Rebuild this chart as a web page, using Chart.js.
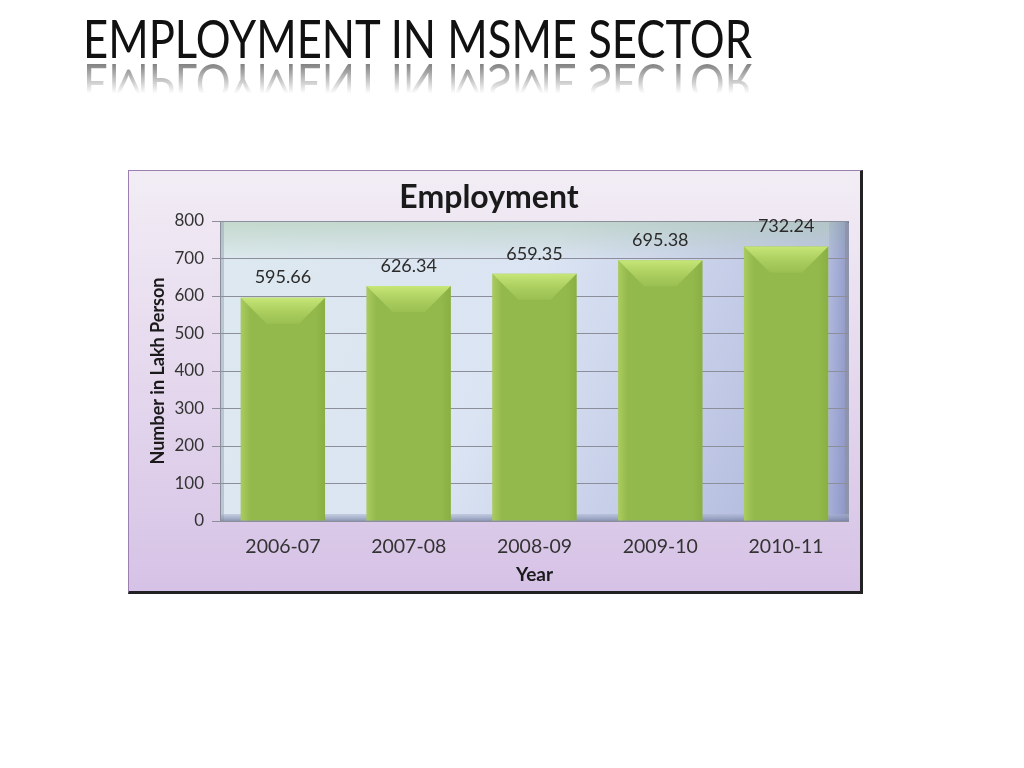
<!DOCTYPE html>
<html>
<head>
<meta charset="utf-8">
<script src="https://cdn.jsdelivr.net/npm/chart.js@4.4.1/dist/chart.umd.min.js"></script>
<style>
  html, body { margin: 0; padding: 0; background: #ffffff; width: 1024px; height: 768px; overflow: hidden; }
  #slideTitle {
    position: absolute; left: 83px; top: 14px;
    font-family: Lato, "Open Sans", sans-serif; font-size: 52px; font-weight: 400;
    line-height: 48px; color: #111; white-space: nowrap;
    transform-origin: 0 0;
    -webkit-box-reflect: below -2px linear-gradient(transparent 30%, rgba(255,255,255,0.6));
  }
  #box {
    position: absolute; left: 128px; top: 170px; width: 731px; height: 420px;
    border-left: 1px solid #9a7fb0; border-top: 1px solid #9a7fb0;
    border-right: 3px solid #222; border-bottom: 3px solid #222;
    background: linear-gradient(to bottom, #f2edf5 0%, #e6daee 45%, #d6c2e6 100%);
  }
  #c { position: absolute; left: 0; top: 0; }
</style>
</head>
<body>
<div id="slideTitle">EMPLOYMENT IN MSME SECTOR</div>
<div id="box"><canvas id="c" width="731" height="420"></canvas></div>
<script>
const categories = ["2006-07", "2007-08", "2008-09", "2009-10", "2010-11"];
const employment = [595.66, 626.34, 659.35, 695.38, 732.24];
const yTicks = [0, 100, 200, 300, 400, 500, 600, 700, 800];

// fit slide title width
(function () {
  const t = document.getElementById('slideTitle');
  const w = t.getBoundingClientRect().width;
  t.style.transform = 'scaleX(' + (669 / w) + ')';
})();

const FONT = "Lato, 'Open Sans', sans-serif";

const plotBg = {
  id: 'plotBg',
  beforeDraw(chart) {
    const { ctx, chartArea: a } = chart;
    ctx.save();
    const g = ctx.createLinearGradient(a.left, a.top, a.right, a.bottom);
    g.addColorStop(0, '#dde9ef');
    g.addColorStop(0.45, '#dbe4f3');
    g.addColorStop(1, '#aab2da');
    ctx.fillStyle = g;
    ctx.fillRect(a.left, a.top, a.right - a.left, a.bottom - a.top);
    // top greenish glow
    const g2 = ctx.createLinearGradient(a.left, a.top, a.left, a.top + 40);
    g2.addColorStop(0, 'rgba(170,200,170,0.5)');
    g2.addColorStop(1, 'rgba(170,200,170,0)');
    ctx.fillStyle = g2;
    ctx.fillRect(a.left, a.top, a.right - a.left, 40);
    // left wall
    ctx.fillStyle = 'rgba(150,165,185,0.5)';
    ctx.fillRect(a.left, a.top, 4, a.bottom - a.top);
    // right wall
    const g3 = ctx.createLinearGradient(a.right - 20, 0, a.right, 0);
    g3.addColorStop(0, 'rgba(120,130,190,0.15)');
    g3.addColorStop(0.8, 'rgba(100,110,170,0.4)');
    g3.addColorStop(1, 'rgba(90,95,120,0.8)');
    ctx.fillStyle = g3;
    ctx.fillRect(a.right - 20, a.top, 20, a.bottom - a.top);
    ctx.fillStyle = '#9094aa';
    ctx.fillRect(a.right - 4, a.top + 2, 4, a.bottom - a.top - 2);
    // floor
    const g4 = ctx.createLinearGradient(0, a.bottom - 7, 0, a.bottom);
    g4.addColorStop(0, 'rgba(170,180,205,0.5)');
    g4.addColorStop(1, 'rgba(120,130,165,0.8)');
    ctx.fillStyle = g4;
    ctx.fillRect(a.left, a.bottom - 7, a.right - a.left, 7);
    ctx.restore();
  }
};

const barDeco = {
  id: 'barDeco',
  afterDatasetsDraw(chart) {
    const { ctx } = chart;
    const meta = chart.getDatasetMeta(0);
    ctx.save();
    meta.data.forEach((bar, i) => {
      const half = bar.width / 2;
      const l = bar.x - half, r = bar.x + half, t = bar.y, b = bar.base;
      const bev = 26;
      // top bevel face (trapezoid)
      ctx.beginPath();
      ctx.moveTo(l, t); ctx.lineTo(r, t); ctx.lineTo(r - bev, t + bev); ctx.lineTo(l + bev, t + bev); ctx.closePath();
      const gt = ctx.createLinearGradient(0, t, 0, t + bev);
      gt.addColorStop(0, 'rgba(205,235,125,0.9)');
      gt.addColorStop(1, 'rgba(180,215,100,0.25)');
      ctx.fillStyle = gt; ctx.fill();
      // left edge highlight
      const gl = ctx.createLinearGradient(l, 0, l + 10, 0);
      gl.addColorStop(0, 'rgba(190,220,110,0.55)');
      gl.addColorStop(1, 'rgba(190,220,110,0)');
      ctx.beginPath();
      ctx.moveTo(l, t); ctx.lineTo(l + bev, t + bev); ctx.lineTo(l + 10, t + bev + 20); ctx.lineTo(l + 10, b); ctx.lineTo(l, b); ctx.closePath();
      ctx.fillStyle = gl; ctx.fill();
      // right edge shade
      const gr = ctx.createLinearGradient(r - 10, 0, r, 0);
      gr.addColorStop(0, 'rgba(120,160,50,0)');
      gr.addColorStop(1, 'rgba(120,160,50,0.35)');
      ctx.beginPath();
      ctx.moveTo(r, t); ctx.lineTo(r - bev, t + bev); ctx.lineTo(r - 10, t + bev + 20); ctx.lineTo(r - 10, b); ctx.lineTo(r, b); ctx.closePath();
      ctx.fillStyle = gr; ctx.fill();
      // value label
      ctx.fillStyle = '#2a2a2a';
      ctx.font = "18px " + FONT;
      ctx.textAlign = 'center';
      ctx.textBaseline = 'middle';
      ctx.fillText(employment[i].toFixed(2), bar.x, t - 20);
    });
    ctx.restore();
  }
};

new Chart(document.getElementById('c'), {
  type: 'bar',
  data: {
    labels: categories,
    datasets: [{
      data: employment,
      backgroundColor: '#93b84c',
      borderWidth: 0,
      categoryPercentage: 1.0,
      barPercentage: 0.67
    }]
  },
  options: {
    responsive: false,
    animation: false,
    devicePixelRatio: 1,
    layout: { padding: { left: 0, right: 11, top: 0, bottom: 0 } },
    plugins: {
      legend: { display: false },
      tooltip: { enabled: false },
      title: {
        display: true,
        text: 'Employment',
        color: '#1a1a1a',
        font: { family: FONT, size: 32, weight: 'bold', lineHeight: 1.2 },
        padding: { top: 7, bottom: 4.6 }
      }
    },
    scales: {
      x: {
        grid: { display: false, drawTicks: false },
        border: { display: false },
        ticks: { color: '#333', font: { family: FONT, size: 19.5 }, padding: 14 },
        title: {
          display: true, text: 'Year', color: '#1a1a1a',
          font: { family: FONT, size: 19, weight: 'bold', lineHeight: 1.2 },
          padding: { top: 0, bottom: 5 }
        },
        afterFit(s) { s.height = 70; }
      },
      y: {
        min: 0, max: 800,
        afterBuildTicks(s) { s.ticks = yTicks.map(v => ({ value: v })); },
        grid: { color: '#8c8f9a', lineWidth: 1, tickLength: 8, tickColor: '#8c8f9a' },
        border: { display: true, color: '#8c8f9a' },
        ticks: { color: '#333', font: { family: FONT, size: 17 }, padding: 8 },
        title: {
          display: true, text: 'Number in Lakh Person', color: '#1a1a1a',
          font: { family: FONT, size: 18, weight: 'bold', lineHeight: 1.2 },
          padding: { top: 18, bottom: 0 }
        },
        afterFit(s) { s.width = 91; }
      }
    }
  },
  plugins: [plotBg, barDeco]
});
</script>
</body>
</html>
